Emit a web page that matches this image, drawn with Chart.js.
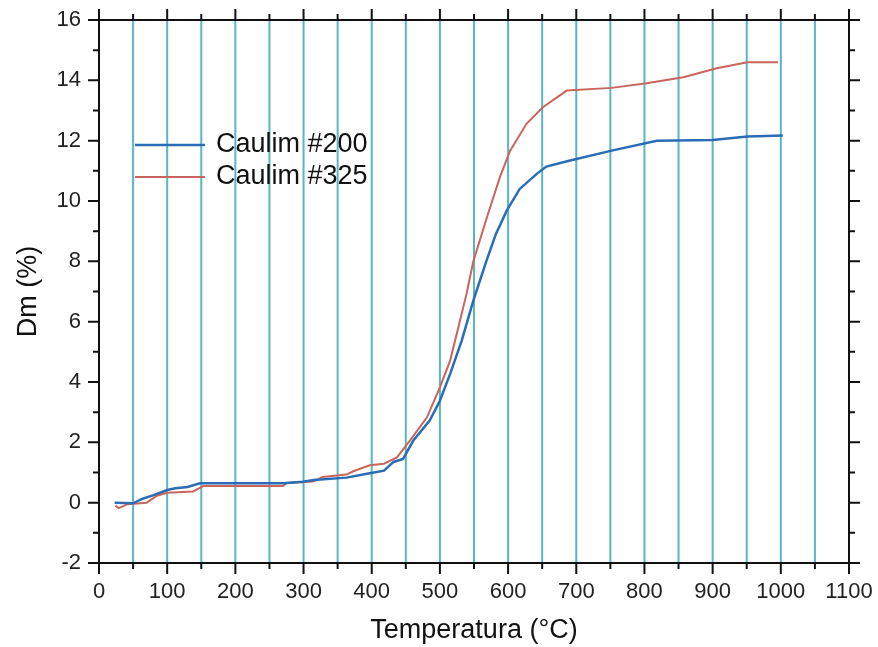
<!DOCTYPE html>
<html>
<head>
<meta charset="utf-8">
<title>Caulim Dm x Temperatura</title>
<script src="https://cdn.jsdelivr.net/npm/chart.js@4.4.1/dist/chart.umd.min.js"></script>
<style>
  html, body { margin: 0; padding: 0; background: #fff; }
  #chart { display: block; }
</style>
</head>
<body>
<canvas id="chart" width="878" height="647"></canvas>
<script>
/* =========================
   DATA
========================= */
const seriesNames = ["Caulim #200", "Caulim #325"];

// Caulim #200 (blue)
const temp200 = [23, 50, 64, 80, 100, 112, 130, 148, 200, 270, 299, 315, 363, 393, 418, 432, 446, 461, 485, 500, 515, 532, 549, 568, 582, 598, 617, 642, 656, 691, 752, 818, 900, 951, 1003];
const dm200   = [0, -0.02, 0.13, 0.25, 0.42, 0.48, 0.52, 0.64, 0.64, 0.64, 0.69, 0.75, 0.83, 0.96, 1.06, 1.35, 1.45, 2.06, 2.72, 3.38, 4.27, 5.37, 6.7, 8.0, 8.9, 9.68, 10.4, 10.9, 11.14, 11.34, 11.67, 12.0, 12.02, 12.14, 12.17];

// Caulim #325 (red)
const temp325 = [24, 29, 42, 70, 85, 100, 138, 153, 200, 270, 275, 314, 328, 363, 373, 397, 418, 437, 456, 481, 500, 515, 527, 539, 549, 569, 588, 603, 627, 651, 686, 752, 803, 857, 906, 951, 996];
const dm325   = [-0.1, -0.18, -0.05, 0, 0.23, 0.33, 0.37, 0.55, 0.55, 0.55, 0.65, 0.7, 0.85, 0.93, 1.04, 1.24, 1.29, 1.5, 2.06, 2.83, 3.82, 4.71, 5.81, 6.92, 8.0, 9.46, 10.79, 11.67, 12.56, 13.11, 13.66, 13.75, 13.9, 14.1, 14.4, 14.6, 14.6];

const xTicks = [0, 100, 200, 300, 400, 500, 600, 700, 800, 900, 1000, 1100];
const yTicks = [-2, 0, 2, 4, 6, 8, 10, 12, 14, 16];

/* =========================
   STYLE
========================= */
const FONT = "'Liberation Sans', Arial, Helvetica, sans-serif";
const BLUE = "#2a6cb6";
const RED = "#c9655d";
const TEAL = "#5ab5c6";

const toPoints = (xs, ys) => xs.map((x, i) => ({ x: x, y: ys[i] }));

/* frame + outward ticks on all four sides, legend inside the plot */
const framePlugin = {
  id: "frame",
  afterDraw(chart) {
    const { ctx, chartArea: a, scales } = chart;
    const xs = scales.x, ys = scales.y;
    ctx.save();
    ctx.strokeStyle = "#111";
    ctx.lineWidth = 2;
    ctx.strokeRect(a.left, a.top, a.right - a.left, a.bottom - a.top);

    ctx.beginPath();
    for (let v = xs.min; v <= xs.max; v += 50) {
      const px = xs.getPixelForValue(v);
      const len = v % 100 === 0 ? 11 : 6;
      ctx.moveTo(px, a.bottom); ctx.lineTo(px, a.bottom + len);
      ctx.moveTo(px, a.top); ctx.lineTo(px, a.top - len);
    }
    for (let v = ys.min; v <= ys.max; v += 1) {
      const py = ys.getPixelForValue(v);
      const len = v % 2 === 0 ? 11 : 6;
      ctx.moveTo(a.left, py); ctx.lineTo(a.left - len, py);
      ctx.moveTo(a.right, py); ctx.lineTo(a.right + len, py);
    }
    ctx.stroke();

    // legend
    ctx.font = "27px " + FONT;
    ctx.textBaseline = "middle";
    ctx.fillStyle = "#111";
    chart.data.datasets.forEach((ds, i) => {
      const y = 145 + i * 32;
      ctx.strokeStyle = ds.borderColor;
      ctx.lineWidth = ds.borderWidth;
      ctx.beginPath();
      ctx.moveTo(135, y); ctx.lineTo(205, y);
      ctx.stroke();
      ctx.fillText(ds.label, 216, y);
    });
    ctx.restore();
  }
};

/* =========================
   CHART
========================= */
new Chart(document.getElementById("chart"), {
  type: "line",
  data: {
    datasets: [
      {
        label: seriesNames[0],
        data: toPoints(temp200, dm200),
        borderColor: BLUE,
        borderWidth: 2.5,
        pointRadius: 0,
        tension: 0
      },
      {
        label: seriesNames[1],
        data: toPoints(temp325, dm325),
        borderColor: RED,
        borderWidth: 2,
        pointRadius: 0,
        tension: 0
      }
    ]
  },
  options: {
    responsive: false,
    animation: false,
    devicePixelRatio: 1,
    layout: { padding: { top: 20, right: 29, left: 0, bottom: 0 } },
    plugins: {
      legend: { display: false },
      tooltip: { enabled: false }
    },
    scales: {
      x: {
        type: "linear",
        min: 0,
        max: 1100,
        afterFit: s => {
          s.height = 84;
          s.paddingLeft = 0;
          s.paddingRight = 0;
        },
        afterBuildTicks: s => { s.ticks = xTicks.map(v => ({ value: v })); },
        ticks: {
          autoSkip: false,
          maxRotation: 0,
          padding: 16,
          color: "#222",
          font: { family: FONT, size: 22 },
          callback: v => String(v)
        },
        grid: {
          drawTicks: false,
          color: "rgba(0,0,0,0)"
        },
        border: { display: false },
        title: {
          display: true,
          text: "Temperatura (°C)",
          color: "#111",
          font: { family: FONT, size: 27 },
          padding: { top: 0, bottom: 0 }
        }
      },
      y: {
        type: "linear",
        min: -2,
        max: 16,
        afterFit: s => {
          s.width = 99;
          s.paddingTop = 0;
          s.paddingBottom = 0;
        },
        afterBuildTicks: s => { s.ticks = yTicks.map(v => ({ value: v })); },
        ticks: {
          padding: 10,
          color: "#222",
          font: { family: FONT, size: 22 },
          callback: v => String(v)
        },
        grid: { display: false },
        border: { display: false },
        title: {
          display: true,
          text: "Dm (%)",
          color: "#111",
          font: { family: FONT, size: 27 },
          padding: { top: 12, bottom: 0 }
        }
      }
    }
  },
  plugins: [{
    // vertical teal lines every 50 °C, drawn under the data
    id: "vlines",
    beforeDatasetsDraw(chart) {
      const { ctx, chartArea: a, scales: { x } } = chart;
      ctx.save();
      ctx.strokeStyle = TEAL;
      ctx.lineWidth = 2;
      ctx.beginPath();
      for (let v = 50; v < x.max; v += 50) {
        const px = x.getPixelForValue(v);
        ctx.moveTo(px, a.top); ctx.lineTo(px, a.bottom);
      }
      ctx.stroke();
      ctx.restore();
    }
  }, framePlugin]
});
</script>
</body>
</html>
